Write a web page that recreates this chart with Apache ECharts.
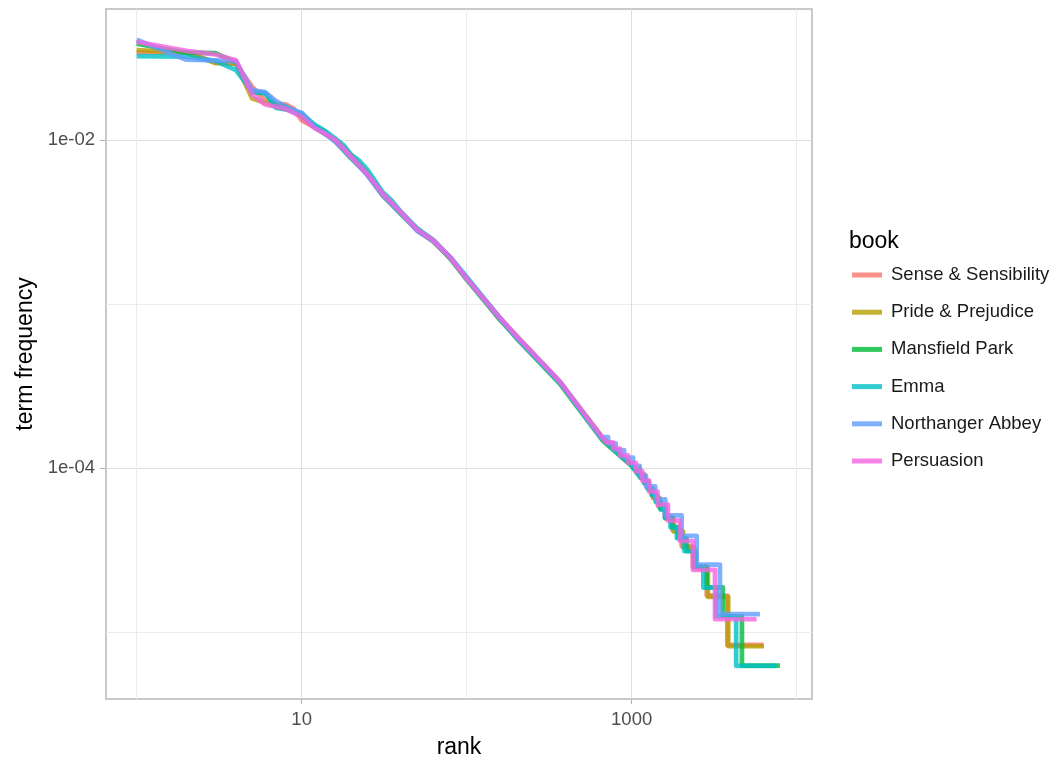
<!DOCTYPE html>
<html>
<head>
<meta charset="utf-8">
<script src="https://cdn.jsdelivr.net/npm/echarts@6/dist/echarts.min.js"></script>
<style>
  html, body { margin: 0; padding: 0; background: #fff; }
  #chart { width: 1056px; height: 758px; }
</style>
</head>
<body>
<div id="chart"></div>
<script>
// ---- data (rank, term frequency) ----
const books = ['Sense & Sensibility', 'Pride & Prejudice', 'Mansfield Park', 'Emma', 'Northanger Abbey', 'Persuasion'];
const bookColors = ['rgba(248,118,109,0.8)', 'rgba(183,159,0,0.8)', 'rgba(0,186,56,0.8)', 'rgba(0,191,196,0.8)', 'rgba(97,156,255,0.8)', 'rgba(245,100,227,0.8)'];

const senseSensibility = [
  [1, 0.0343], [2, 0.0342], [3, 0.0298], [4, 0.0291], [5, 0.0212], [6, 0.0174], [7, 0.0166], [8, 0.0165], [9, 0.0155], [10, 0.0132],
  [12, 0.0120], [14, 0.0108], [16, 0.0101], [20, 0.0080], [25, 0.0062], [31, 0.0046], [40, 0.00362], [50, 0.00282], [63, 0.00240],
  [80, 0.00191], [100, 0.00142], [158, 0.00083], [200, 0.00064], [368, 0.00033], [500, 0.000222], [671, 0.000150], [1000, 0.000104],
  [1030, 1.000e-4], [1110, 1.000e-4], [1110, 9.170e-5], [1190, 9.170e-5], [1190, 8.336e-5], [1260, 8.336e-5], [1260, 7.503e-5],
  [1340, 7.503e-5], [1340, 6.669e-5], [1450, 6.669e-5], [1450, 5.835e-5], [1590, 5.835e-5], [1590, 5.002e-5], [1770, 5.002e-5], [1770, 4.168e-5],
  [2010, 4.168e-5], [2010, 3.335e-5], [2350, 3.335e-5], [2350, 2.501e-5], [2850, 2.501e-5], [2850, 1.667e-5], [3800, 1.667e-5],
  [3800, 8.336e-6], [6300, 8.336e-6]
];
const pridePrejudice = [
  [1, 0.0354], [2, 0.0341], [3, 0.0295], [4, 0.0293], [5, 0.0180], [6, 0.0169], [7, 0.0160], [8, 0.0154], [9, 0.0151], [10, 0.0139],
  [12, 0.0119], [14, 0.0109], [16, 0.0099], [20, 0.0081], [25, 0.0063], [31, 0.0047], [40, 0.00357], [50, 0.00287], [63, 0.00240],
  [80, 0.00189], [100, 0.00144], [158, 0.00081], [200, 0.00064], [368, 0.000335], [500, 0.000224], [671, 0.000152], [1000, 0.000106],
  [1050, 9.820e-5], [1120, 9.820e-5], [1120, 9.001e-5], [1200, 9.001e-5], [1200, 8.183e-5], [1275, 8.183e-5], [1275, 7.365e-5],
  [1355, 7.365e-5], [1355, 6.546e-5], [1479, 6.546e-5], [1479, 5.728e-5], [1610, 5.728e-5], [1610, 4.910e-5], [1800, 4.910e-5], [1800, 4.092e-5],
  [2050, 4.092e-5], [2050, 3.273e-5], [2400, 3.273e-5], [2400, 2.455e-5], [2900, 2.455e-5], [2900, 1.637e-5], [3850, 1.637e-5],
  [3850, 8.183e-6], [6340, 8.183e-6]
];
const mansfieldPark = [
  [1, 0.0387], [2, 0.0341], [3, 0.0339], [4, 0.0298], [5, 0.0195], [6, 0.0193], [7, 0.0165], [8, 0.0160], [9, 0.0150], [10, 0.0142],
  [12, 0.0122], [14, 0.0111], [16, 0.0098], [20, 0.0077], [25, 0.0062], [31, 0.0046], [40, 0.00354], [50, 0.00283], [63, 0.00243],
  [80, 0.00188], [100, 0.00141], [158, 0.00081], [200, 0.00062], [368, 0.000326], [500, 0.000216], [671, 0.000146], [1000, 0.000103],
  [1130, 8.725e-5], [1190, 8.725e-5], [1190, 8.102e-5], [1250, 8.102e-5], [1250, 7.478e-5], [1320, 7.478e-5], [1320, 6.855e-5],
  [1400, 6.855e-5], [1400, 6.232e-5], [1497, 6.232e-5], [1497, 5.609e-5], [1600, 5.609e-5], [1600, 4.986e-5], [1750, 4.986e-5], [1750, 4.362e-5],
  [1920, 4.362e-5], [1920, 3.739e-5], [2150, 3.739e-5], [2150, 3.116e-5], [2450, 3.116e-5], [2450, 2.493e-5], [2850, 2.493e-5],
  [2850, 1.870e-5], [3570, 1.870e-5], [3570, 1.246e-5], [4660, 1.246e-5], [4660, 6.232e-6], [7910, 6.232e-6]
];
const emma = [
  [1, 0.0325], [2, 0.0323], [3, 0.0304], [4, 0.0267], [5, 0.0198], [6, 0.0194], [7, 0.0157], [8, 0.0154], [9, 0.0149], [10, 0.0145],
  [12, 0.0124], [14, 0.0113], [16, 0.0102], [18, 0.0093], [20, 0.0081], [22, 0.0076], [25, 0.0066], [31, 0.0048], [35, 0.0043], [40, 0.00364],
  [50, 0.00290], [63, 0.00245], [80, 0.00192], [100, 0.00146], [158, 0.00083], [200, 0.00063], [368, 0.000332], [500, 0.000220],
  [671, 0.000149], [1000, 0.000104],
  [1140, 8.696e-5], [1200, 8.696e-5], [1200, 8.075e-5], [1265, 8.075e-5], [1265, 7.454e-5], [1335, 7.454e-5], [1335, 6.832e-5],
  [1410, 6.832e-5], [1410, 6.211e-5], [1500, 6.211e-5], [1500, 5.590e-5], [1590, 5.590e-5], [1590, 4.969e-5], [1720, 4.969e-5], [1720, 4.348e-5],
  [1880, 4.348e-5], [1880, 3.727e-5], [2090, 3.727e-5], [2090, 3.106e-5], [2380, 3.106e-5], [2380, 2.485e-5], [2720, 2.485e-5],
  [2720, 1.863e-5], [3250, 1.863e-5], [3250, 1.242e-5], [4300, 1.242e-5], [4300, 6.211e-6], [7550, 6.211e-6]
];
const northangerAbbey = [
  [1, 0.0409], [2, 0.0309], [3, 0.0306], [4, 0.0302], [5, 0.0202], [6, 0.0196], [7, 0.0173], [8, 0.0160], [9, 0.0152], [10, 0.0147],
  [12, 0.0120], [14, 0.0108], [16, 0.0098], [20, 0.0078], [25, 0.0061], [31, 0.0046], [40, 0.00358], [50, 0.00280], [63, 0.00241],
  [80, 0.00191], [100, 0.00144], [158, 0.00082], [200, 0.00063], [368, 0.000334], [500, 0.000222],
  [650, 1.543e-4], [720, 1.543e-4], [720, 1.414e-4], [800, 1.414e-4], [800, 1.286e-4], [900, 1.286e-4], [900, 1.157e-4],
  [1020, 1.157e-4], [1020, 1.029e-4], [1120, 1.029e-4], [1120, 9.000e-5], [1220, 9.000e-5], [1220, 7.714e-5],
  [1390, 7.714e-5], [1390, 6.428e-5], [1600, 6.428e-5], [1600, 5.143e-5], [2010, 5.143e-5], [2010, 3.857e-5],
  [2480, 3.857e-5], [2480, 2.571e-5], [3430, 2.571e-5], [3430, 1.286e-5], [5990, 1.286e-5]
];
const persuasion = [
  [1, 0.0398], [2, 0.0350], [3, 0.0333], [4, 0.0307], [5, 0.0190], [6, 0.0165], [7, 0.0160], [8, 0.0155], [9, 0.0146], [10, 0.0138],
  [12, 0.0118], [14, 0.0109], [16, 0.0100], [20, 0.0079], [25, 0.0062], [31, 0.0047], [40, 0.00362], [50, 0.00285], [63, 0.00244],
  [80, 0.00191], [100, 0.00143], [158, 0.00083], [200, 0.00064], [368, 0.000336], [500, 0.000223],
  [700, 1.434e-4], [770, 1.434e-4], [770, 1.315e-4], [850, 1.315e-4], [850, 1.195e-4], [950, 1.195e-4], [950, 1.076e-4],
  [1060, 1.076e-4], [1060, 9.563e-5], [1160, 9.563e-5], [1160, 8.367e-5], [1277, 8.367e-5], [1277, 7.172e-5],
  [1436, 7.172e-5], [1436, 5.977e-5], [1660, 5.977e-5], [1660, 4.781e-5], [1963, 4.781e-5], [1963, 3.586e-5],
  [2353, 3.586e-5], [2353, 2.391e-5], [3200, 2.391e-5], [3200, 1.195e-5], [5720, 1.195e-5]
];
const bookData = [senseSensibility, pridePrejudice, mansfieldPark, emma, northangerAbbey, persuasion];

const xTickValues = [10, 1000];
const xTickLabels = ['10', '1000'];
const xMinorGrid = [1, 100, 10000];
const yTickValues = [0.01, 0.0001];
const yTickLabels = ['1e-02', '1e-04'];
const yMinorGrid = [0.001, 0.00001];

const FONT = '"Liberation Sans", Arial, Helvetica, sans-serif';
const X_MIN = 0.652, X_MAX = 12390, Y_MIN = 3.9e-6, Y_MAX = 0.063;

function labelFor(values, labels) {
  return function (v) {
    for (let i = 0; i < values.length; i++) {
      if (Math.abs(Math.log10(v) - Math.log10(values[i])) < 1e-6) return labels[i];
    }
    return '';
  };
}

const chart = echarts.init(document.getElementById('chart'), null, { renderer: 'canvas' });
chart.setOption({
  animation: false,
  backgroundColor: '#ffffff',
  textStyle: { fontFamily: FONT },
  title: {
    text: 'book', left: 849, top: 230, padding: 0,
    textStyle: { fontFamily: FONT, fontSize: 23, fontWeight: 'normal', color: '#000000' }
  },
  legend: {
    orient: 'vertical', left: 852, top: 264, padding: 0,
    itemWidth: 30, itemHeight: 5, itemGap: 15.2, icon: 'rect',
    data: books,
    textStyle: { fontFamily: FONT, fontSize: 18.5, color: '#1a1a1a', lineHeight: 22, padding: [0, 0, 0, 4] }
  },
  grid: {
    left: 106, top: 9, right: 244, bottom: 59, containLabel: false, outerBoundsMode: 'none',
    show: true, borderColor: '#b8b8b8', borderWidth: 1.5, backgroundColor: '#ffffff'
  },
  xAxis: [{
    type: 'log', logBase: 10, min: X_MIN, max: X_MAX, position: 'bottom', offset: 0,
    axisLine: { show: false },
    axisTick: { show: false, customValues: xMinorGrid },
    axisLabel: { show: false, customValues: xMinorGrid },
    splitLine: { show: true, lineStyle: { color: '#ececec', width: 1 } }
  }, {
    type: 'log', logBase: 10, min: X_MIN, max: X_MAX, position: 'bottom', offset: 0,
    name: 'rank', nameLocation: 'middle', nameGap: 37,
    nameTextStyle: { fontFamily: FONT, fontSize: 23, color: '#000000' },
    axisLine: { show: false },
    axisTick: { show: true, customValues: xTickValues, length: 5, lineStyle: { color: '#b3b3b3', width: 1 } },
    axisLabel: { customValues: xTickValues, formatter: labelFor(xTickValues, xTickLabels), margin: 11,
      fontFamily: FONT, fontSize: 18.5, color: '#4d4d4d' },
    splitLine: { show: true, lineStyle: { color: '#dedede', width: 1 } }
  }],
  yAxis: [{
    type: 'log', logBase: 10, min: Y_MIN, max: Y_MAX, position: 'left', offset: 0,
    axisLine: { show: false },
    axisTick: { show: false, customValues: yMinorGrid },
    axisLabel: { show: false, customValues: yMinorGrid },
    splitLine: { show: true, lineStyle: { color: '#ececec', width: 1 } }
  }, {
    type: 'log', logBase: 10, min: Y_MIN, max: Y_MAX, position: 'left', offset: 0,
    name: 'term frequency', nameLocation: 'middle', nameGap: 68,
    nameTextStyle: { fontFamily: FONT, fontSize: 23, color: '#000000' },
    axisLine: { show: false },
    axisTick: { show: true, customValues: yTickValues, length: 6, lineStyle: { color: '#b3b3b3', width: 1 } },
    axisLabel: { customValues: yTickValues, formatter: labelFor(yTickValues, yTickLabels), margin: 11,
      fontFamily: FONT, fontSize: 18.5, color: '#4d4d4d' },
    splitLine: { show: true, lineStyle: { color: '#dedede', width: 1 } }
  }],
  series: books.map(function (name, i) {
    return {
      name: name, type: 'line', data: bookData[i], xAxisIndex: 1, yAxisIndex: 1,
      symbol: 'none', showSymbol: false, clip: true,
      color: bookColors[i],
      lineStyle: { width: 4.7, color: bookColors[i], join: 'round', cap: 'butt' },
      emphasis: { disabled: true }
    };
  })
});
</script>
</body>
</html>
